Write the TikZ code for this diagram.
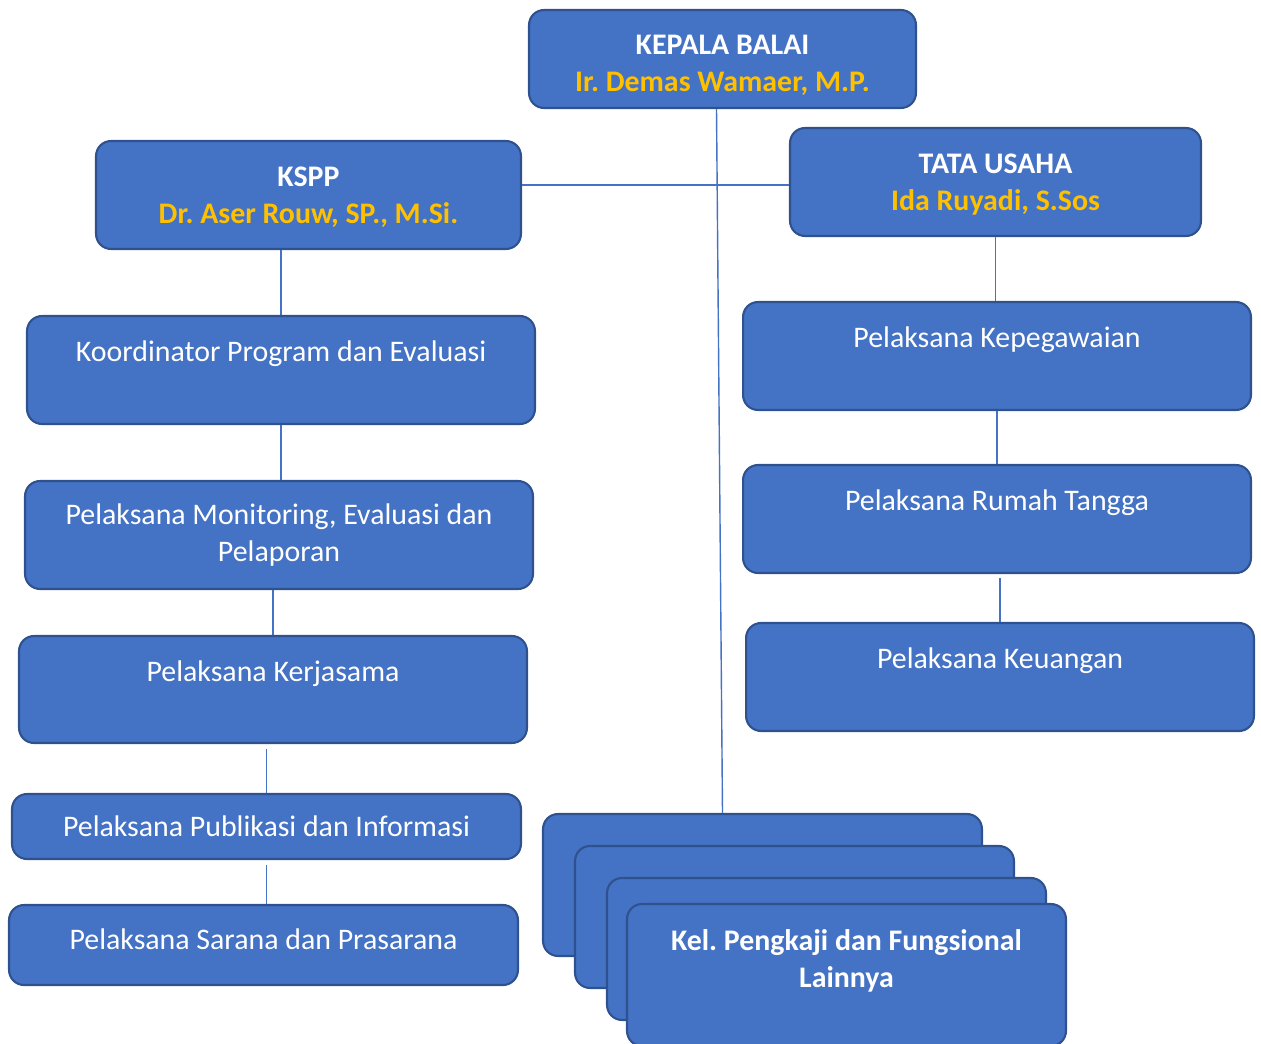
\documentclass[tikz,border=0pt]{standalone}
\usepackage{fontspec}
\setmainfont{Carlito}
\usepackage{xcolor}
\usepackage{tikz}
\usetikzlibrary{calc}
\frenchspacing

\definecolor{boxfill}{HTML}{4472C4}
\definecolor{boxline}{HTML}{2F528F}
\definecolor{namegold}{HTML}{FFC000}

\begin{document}
\begin{tikzpicture}[x=0.02cm,y=-0.02cm,
  unitbox/.style={draw=boxline, fill=boxfill, line width=1.2pt,
    rounded corners=0.3cm, text=white, align=center, inner sep=0pt,
    font=\fontsize{17}{21}\selectfont},
  headbox/.style={unitbox, font=\fontsize{17}{21}\selectfont\bfseries},
  link/.style={draw=boxfill, line width=0.8pt}]

\useasboundingbox (0,0) rectangle (1261,1044);

% pimpinan
\node[headbox, minimum width=7.74cm, minimum height=1.96cm] (kepala) at (722.5,59)
{\rule{0pt}{18pt}KEPALA BALAI\\ \textcolor{namegold}{Ir. Demas Wamaer, M.P.}};
\node[headbox, minimum width=8.5cm, minimum height=2.16cm] (kspp) at (308.5,195)
{\rule{0pt}{14pt}KSPP\\ \textcolor{namegold}{Dr. Aser Rouw, SP., M.Si.}};
\node[headbox, minimum width=8.22cm, minimum height=2.16cm] (tata) at (995.5,182)
{\rule{0pt}{14pt}TATA USAHA\\ \textcolor{namegold}{Ida Ruyadi, S.Sos}};

% kiri
\node[unitbox, minimum width=10.16cm, minimum height=2.16cm] (koord) at (281,370)
{Koordinator Program dan Evaluasi\\ \mbox{}};
\node[unitbox, minimum width=10.16cm, minimum height=2.16cm] (monev) at (279,535)
{Pelaksana Monitoring, Evaluasi dan\\ Pelaporan};
\node[unitbox, minimum width=10.16cm, minimum height=2.14cm] (kerja) at (273,689.5)
{Pelaksana Kerjasama\\ \mbox{}};
\node[unitbox, minimum width=10.18cm, minimum height=1.3cm] (publik) at (266.5,826.5)
{Pelaksana Publikasi dan Informasi};
\node[unitbox, minimum width=10.18cm, minimum height=1.6cm] (sarana) at (263.5,945)
{Pelaksana Sarana dan Prasarana\rule[-0.24cm]{0pt}{0.24cm}};

% kanan
\node[unitbox, minimum width=10.16cm, minimum height=2.16cm] (pegawai) at (997,356)
{Pelaksana Kepegawaian\\ \mbox{}};
\node[unitbox, minimum width=10.16cm, minimum height=2.16cm] (rumah) at (997,519)
{Pelaksana Rumah Tangga\\ \mbox{}};
\node[unitbox, minimum width=10.16cm, minimum height=2.16cm] (uang) at (1000,677)
{Pelaksana Keuangan\\ \mbox{}};

% kelompok fungsional
\node[unitbox, minimum width=8.78cm, minimum height=2.84cm] (kel1) at (762.5,885) {};
\node[unitbox, minimum width=8.78cm, minimum height=2.84cm] (kel2) at (794.5,917) {};
\node[unitbox, minimum width=8.78cm, minimum height=2.84cm] (kel3) at (826.5,949) {};
\node[headbox, minimum width=8.78cm, minimum height=2.84cm] (kel4) at (846.5,975)
{\rule{0pt}{14pt}Kel. Pengkaji dan Fungsional\\ Lainnya\\ \mbox{}};

% garis
\draw[link] ($(tata.west)+(0,3)$) -- ($(tata.west -| kspp.east)+(0,3)$);
\draw[link] ([xshift=-0.12cm]kepala.south) -- (kepala.south |- kel1.north);
\draw[link] (kspp.south -| koord.north) -- (koord.north);
\draw[link] (koord.south) -- (koord.south |- monev.north);
\draw[link] (monev.south -| kerja.north) -- (kerja.north);
\draw[link, shorten <=0.1cm] (kerja.south -| publik.north) -- (publik.north);
\draw[link, shorten <=0.1cm] (publik.south -| publik.north) -- (publik.south |- sarana.north);
\draw[link] (tata.south) -- (tata.south |- pegawai.north);
\draw[link] (pegawai.south) -- (pegawai.south |- rumah.north);
\draw[link, shorten <=0.08cm] (rumah.south -| uang.north) -- (uang.north);
\end{tikzpicture}
\end{document}
